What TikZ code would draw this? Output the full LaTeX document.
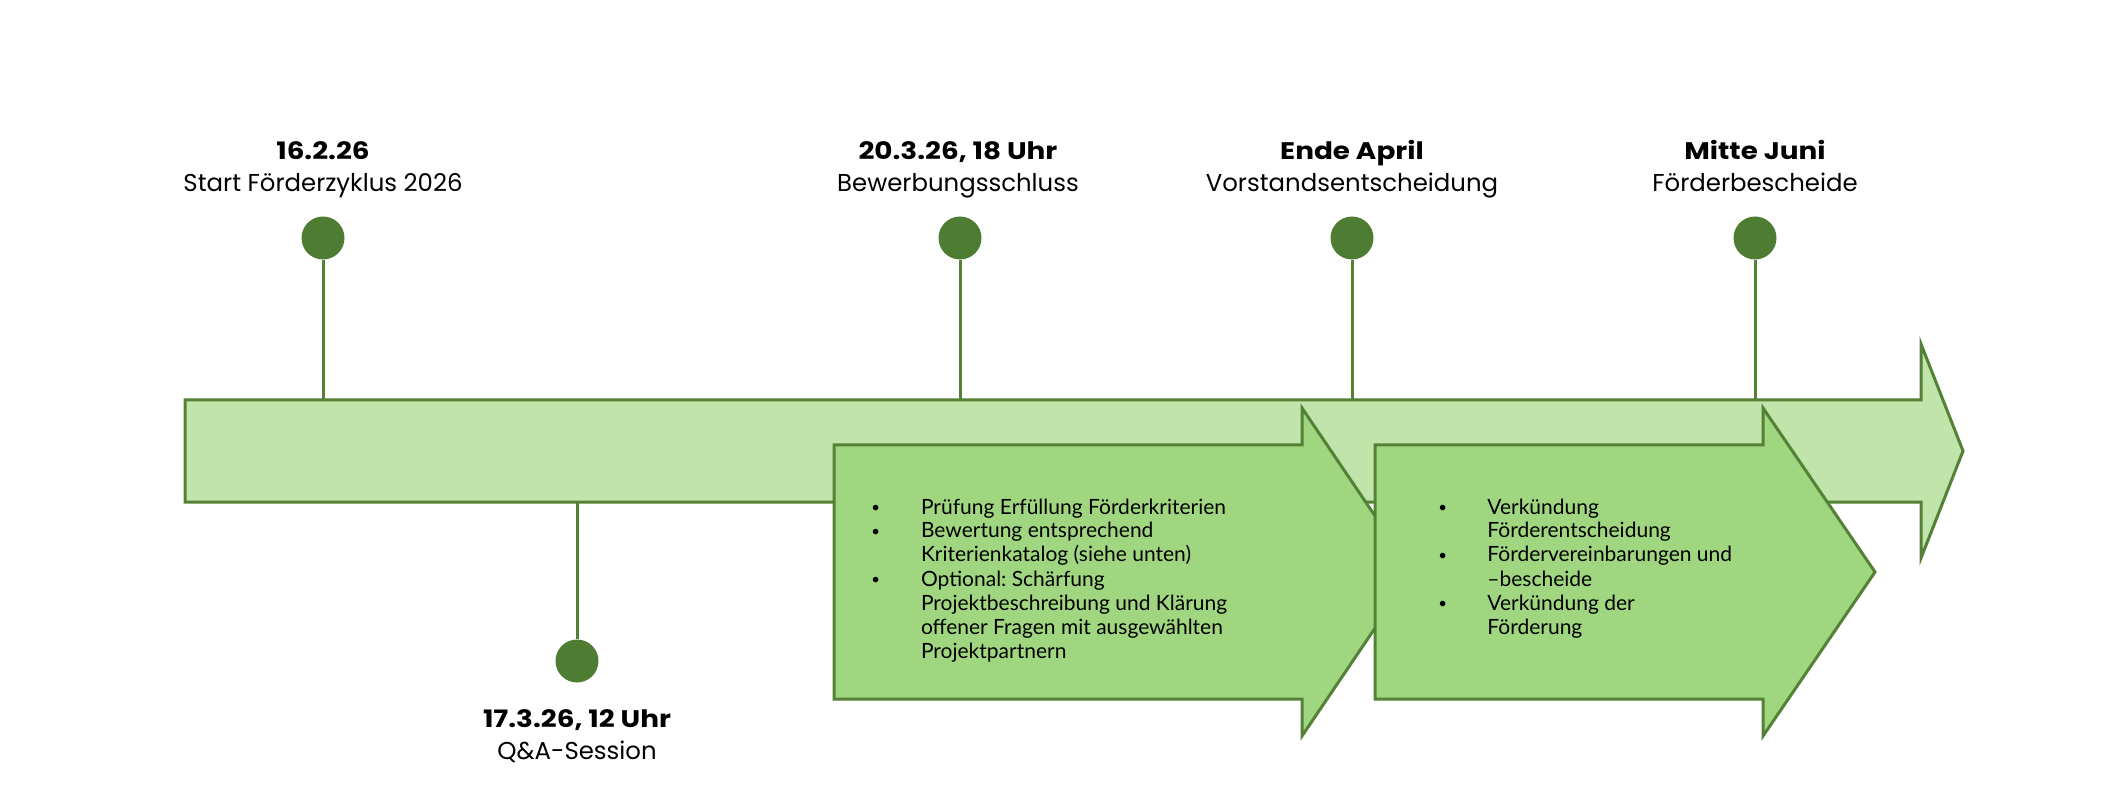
\documentclass[tikz,border=0pt]{standalone}
\usepackage{fontspec}
\setmainfont{Poppins}
\newfontfamily\boxfont{Lato}
\newfontfamily\datefont[FakeStretch=1.16]{Poppins}
\definecolor{lineG}{HTML}{538135}
\definecolor{dotG}{HTML}{4E7C32}
\definecolor{mainF}{HTML}{C1E4AA}
\definecolor{boxF}{HTML}{A1D681}
\newcommand{\bul}{\raisebox{0.6pt}{\fontsize{7.5}{8}\selectfont •}}
\tikzset{
  arrowshape/.style={draw=lineG, line width=1.5pt, line join=miter},
  dot/.style={circle, fill=dotG, minimum size=21.5pt, inner sep=0pt},
  pinline/.style={draw=lineG, line width=1.5pt},
  datelbl/.style={anchor=base, inner sep=0pt, font=\datefont\fontsize{12}{14}\selectfont\bfseries},
  desclbl/.style={anchor=base, inner sep=0pt, font=\fontsize{12.2}{14}\selectfont},
  boxtext/.style={anchor=base west, inner sep=0pt, font=\boxfont\fontsize{10.5}{12}\selectfont\frenchspacing}
}
\begin{document}
\begin{tikzpicture}[x=0.5pt,y=-0.5pt]
\useasboundingbox (0,0) rectangle (2120,807);
% main timeline arrow
\draw[arrowshape, fill=mainF] (185,400) -- (1921,400) -- (1921,344) -- (1963,451) -- (1921,558) -- (1921,502) -- (185,502) -- cycle;
% phase arrows
\draw[arrowshape, fill=boxF] (834,445) -- (1302,445) -- (1302,408) -- (1413,572) -- (1302,736) -- (1302,699) -- (834,699) -- cycle;
\draw[arrowshape, fill=boxF] (1375,445) -- (1763,445) -- (1763,408) -- (1875,572) -- (1763,736) -- (1763,699) -- (1375,699) -- cycle;
% pin base coordinates
\coordinate (b1) at (323,400);
\coordinate (b2) at (960,400);
\coordinate (b3) at (1352,400);
\coordinate (b4) at (1755,400);
\coordinate (b5) at (577,502);
% dots
\node[dot] (p1) at (323,238) {};
\node[dot] (p2) at (960,238) {};
\node[dot] (p3) at (1352,238) {};
\node[dot] (p4) at (1755,238) {};
\node[dot] (p5) at (577,661) {};
\draw[pinline] (p1.south) -- (b1);
\draw[pinline] (p2.south) -- (b2);
\draw[pinline] (p3.south) -- (b3);
\draw[pinline] (p4.south) -- (b4);
\draw[pinline] (b5) -- (p5.north);
% labels
\node[datelbl] (d1) at (323,160) {16.2.26};
\node[desclbl] (t1) at (323,192) {Start Förderzyklus 2026};
\node[datelbl] (d2) at (958,160) {20.3.26, 18 Uhr};
\node[desclbl] (t2) at (958,192) {Bewerbungsschluss};
\node[datelbl] (d3) at (1352,160) {Ende April};
\node[desclbl] (t3) at (1352,192) {Vorstandsentscheidung};
\node[datelbl] (d4) at (1755,160) {Mitte Juni};
\node[desclbl] (t4) at (1755,192) {Förderbescheide};
\node[datelbl] (d5) at (577,727) {17.3.26, 12 Uhr};
\node[desclbl] (t5) at (577,759) {Q\&A-Session};
% box texts
\node[boxtext] (x1) at (871,514) {\begin{tabular}[t]{@{}p{24.8pt}@{}l@{}}
\bul&Prüfung Erfüllung Förderkriterien\\
\bul&Bewertung entsprechend\\
&Kriterienkatalog (siehe unten)\\
\bul&Optional: Schärfung\\
&Projektbeschreibung und Klärung\\
&offener Fragen mit ausgewählten\\
&Projektpartnern
\end{tabular}};
\node[boxtext] (x2) at (1438,514) {\begin{tabular}[t]{@{}p{24.5pt}@{}l@{}}
\bul&Verkündung\\
&Förderentscheidung\\
\bul&Fördervereinbarungen und\\
&–bescheide\\
\bul&Verkündung der\\
&Förderung
\end{tabular}};
\end{tikzpicture}
\end{document}
